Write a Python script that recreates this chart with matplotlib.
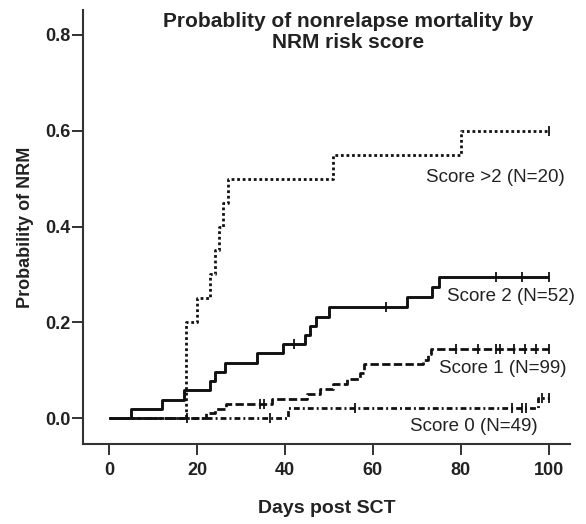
"""NRM cumulative incidence by NRM risk score (step curves)."""

import matplotlib
matplotlib.use("Agg")
import matplotlib.pyplot as plt
from matplotlib import rcParams

rcParams["font.family"] = ["Liberation Sans", "DejaVu Sans"]
rcParams["font.weight"] = "bold"

# Score >2 (N=20)
t_s3 = [0, 17.5, 20, 23, 24, 25, 26, 27, 51, 80, 100]
p_s3 = [0, 0.20, 0.25, 0.30, 0.35, 0.40, 0.45, 0.50, 0.55, 0.60, 0.60]
c_s3 = [100]

# Score 2 (N=52)
t_s2 = [0, 5, 12, 17, 23, 24.1, 26.4, 33.6, 39.5, 44.5, 45.7, 47, 50,
        67.7, 73.5, 75, 100]
p_s2 = [0, 0.019, 0.038, 0.058, 0.077, 0.096, 0.115, 0.135, 0.154, 0.173,
        0.192, 0.212, 0.231, 0.252, 0.273, 0.294, 0.294]
c_s2 = [42, 63, 88, 94, 100]

# Score 1 (N=99)
t_s1 = [0, 22, 24, 26.5, 37, 45, 48, 51, 54, 57, 58, 71.4, 72.6, 73.3, 100]
p_s1 = [0, 0.010, 0.020, 0.030, 0.040, 0.051, 0.061, 0.071, 0.081, 0.094,
        0.112, 0.122, 0.134, 0.145, 0.145]
c_s1 = [34.3, 35.2, 79, 84, 88, 89, 92, 94.5, 97, 100]

# Score 0 (N=49)
t_s0 = [0, 40.7, 97.5, 100]
p_s0 = [0, 0.021, 0.043, 0.043]
c_s0 = [17.7, 36.6, 56, 91.6, 94, 94.8, 98.5, 100]

labels = ["Score >2 (N=20)", "Score 2 (N=52)", "Score 1 (N=99)", "Score 0 (N=49)"]
label_pos = [(103.6, 0.503), (106.0, 0.253), (104.0, 0.104), (97.5, -0.017)]

xticks = [0, 20, 40, 60, 80, 100]
yticks = [0.0, 0.2, 0.4, 0.6, 0.8]


def step_value(t, p, x):
    v = p[0]
    for ti, pi in zip(t, p):
        if ti <= x:
            v = pi
    return v


def draw_curve(ax, t, p, cens, ls, lw):
    ax.step(t, p, where="post", color="#111111", linestyle=ls, linewidth=lw,
            solid_capstyle="butt", dash_capstyle="butt")
    ax.plot(cens, [step_value(t, p, c) for c in cens], linestyle="none",
            marker="|", markersize=7, markeredgewidth=1.3, color="#111111")


def main():
    fig = plt.figure(figsize=(5.86, 5.24), dpi=100)
    ax = fig.add_axes([83 / 586, 1 - 444 / 524, 487 / 586, 434 / 524])

    draw_curve(ax, t_s3, p_s3, c_s3, (0, (1, 1)), 2.0)
    draw_curve(ax, t_s2, p_s2, c_s2, "-", 2.1)
    draw_curve(ax, t_s1, p_s1, c_s1, (0, (3, 1.2)), 2.0)
    draw_curve(ax, t_s0, p_s0, c_s0, (0, (2.1, 1.1, 0.7, 1.1)), 2.0)

    for text, (x, y) in zip(labels, label_pos):
        ax.text(x, y, text, ha="right", va="center", fontsize=13.5,
                fontweight="normal", color="#222222")

    ax.set_xlim(-5.9, 104.8)
    ax.set_ylim(-0.054, 0.852)
    ax.set_xticks(xticks)
    ax.set_xticklabels([str(v) for v in xticks])
    ax.set_yticks(yticks)
    ax.set_yticklabels([f"{v:.1f}" for v in yticks])
    ax.tick_params(axis="both", direction="out", length=8, width=1.3,
                   labelsize=13, colors="#222222")
    ax.tick_params(axis="x", pad=5)
    ax.tick_params(axis="y", pad=1)
    for side in ("top", "right"):
        ax.spines[side].set_visible(False)
    for side in ("left", "bottom"):
        ax.spines[side].set_linewidth(1.5)
        ax.spines[side].set_color("#333333")

    ax.set_xlabel("Days post SCT", fontsize=14, fontweight="bold",
                  color="#222222", labelpad=15)
    ax.set_ylabel("Probability of NRM", fontsize=13, fontweight="bold",
                  color="#222222", labelpad=8)
    fig.text(348 / 586, 1 - 32 / 524,
             "Probablity of nonrelapse mortality by\nNRM risk score",
             ha="center", va="center", fontsize=15, fontweight="bold",
             color="#222222", linespacing=1.1)

    fig.savefig("out.png", dpi=100)
    plt.close(fig)


if __name__ == "__main__":
    main()
